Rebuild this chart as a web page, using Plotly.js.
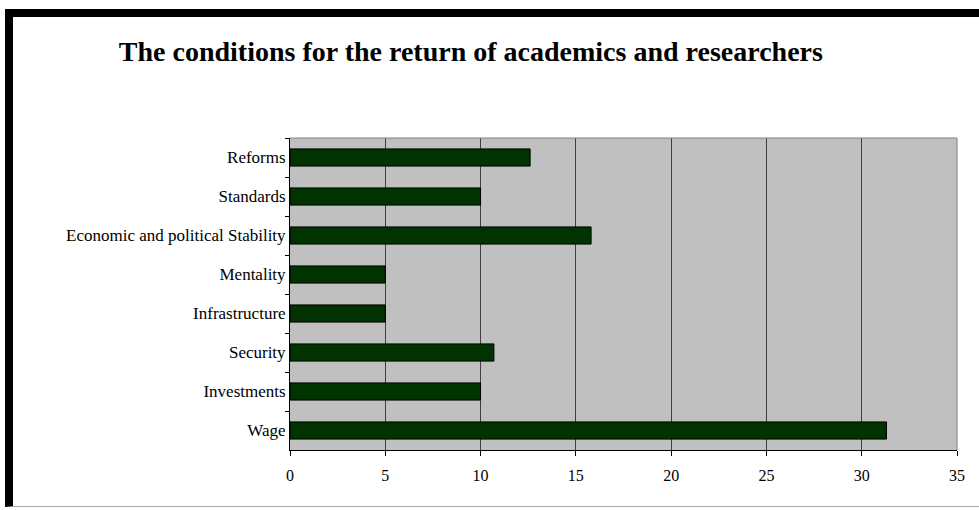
<!DOCTYPE html>
<html>
<head>
<meta charset="utf-8">
<script src="https://cdn.plot.ly/plotly-3.0.1.min.js"></script>
<style>
html,body{margin:0;padding:0;background:#fff;width:979px;height:510px;overflow:hidden;}
#frame{position:absolute;left:5px;top:9px;width:974px;height:498px;border-left:8px solid #000;border-top:8px solid #000;border-bottom:1px solid #aaa;box-sizing:border-box;pointer-events:none;z-index:5;}
#chart{position:absolute;left:0;top:0;width:979px;height:510px;}
</style>
</head>
<body>
<div id="chart"></div>
<div id="frame"></div>
<script>
const categories = ["Reforms","Standards","Economic and political Stability","Mentality","Infrastructure","Security","Investments","Wage"];
const values = [12.6, 10, 15.8, 5, 5, 10.7, 10, 31.3];
const xTicks = [0,5,10,15,20,25,30,35];
const titleText = "The conditions for the return of academics and researchers";

const trace = {
  type: "bar",
  orientation: "h",
  y: categories,
  x: values,
  marker: {color: "#003300", line: {color: "#000000", width: 1}},
  hoverinfo: "x+y"
};

const layout = {
  width: 979, height: 510,
  margin: {l: 290, r: 22, t: 138, b: 60},
  paper_bgcolor: "#ffffff",
  plot_bgcolor: "#c0c0c0",
  bargap: 0.56,
  showlegend: false,
  title: {
    text: "<b>" + titleText + "</b>",
    font: {family: "Liberation Serif, Times New Roman, serif", size: 28, color: "#000"},
    x: 0.481, xanchor: "center", y: 0.9, yanchor: "middle"
  },
  xaxis: {
    range: [0, 35],
    tickvals: xTicks,
    ticktext: xTicks.map(String),
    ticks: "outside", ticklen: 5, tickcolor: "#000", tickwidth: 1,
    ticklabelstandoff: 6,
    showgrid: true, gridcolor: "#404040", gridwidth: 1,
    zeroline: false,
    showline: true, linecolor: "#000", linewidth: 1,
    mirror: false,
    tickfont: {family: "Liberation Serif, Times New Roman, serif", size: 16, color: "#000"}
  },
  yaxis: {
    type: "category",
    autorange: "reversed",
    tickson: "boundaries",
    ticks: "outside", ticklen: 4, tickcolor: "#000", tickwidth: 1,
    showgrid: false, zeroline: false,
    showline: true, linecolor: "#000", linewidth: 1,
    tickfont: {family: "Liberation Serif, Times New Roman, serif", size: 17, color: "#000"}
  },
  shapes: [
    {type: "line", xref: "paper", yref: "paper", x0: 0, x1: 1, y0: 1, y1: 1, line: {color: "#808080", width: 1}},
    {type: "line", xref: "paper", yref: "paper", x0: 1, x1: 1, y0: 0, y1: 1, line: {color: "#808080", width: 1}}
  ]
};

Plotly.newPlot("chart", [trace], layout, {displayModeBar: false, staticPlot: true});
</script>
</body>
</html>
